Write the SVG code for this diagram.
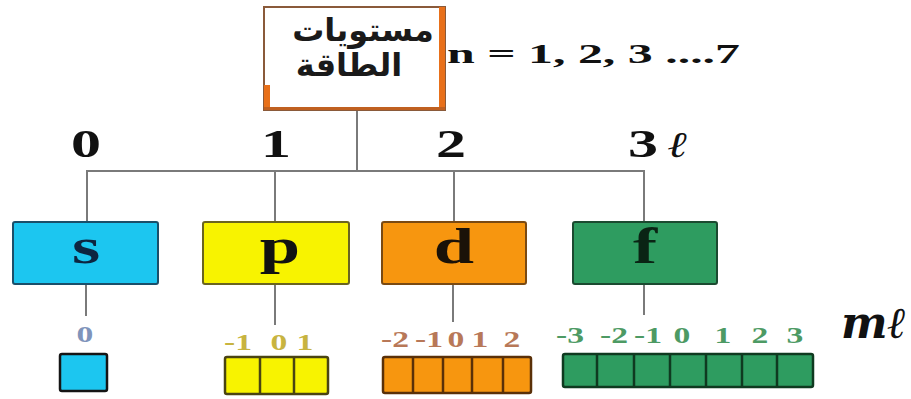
<svg xmlns="http://www.w3.org/2000/svg" width="911" height="399" viewBox="0 0 911 399">
<defs>
<style>
.ln{stroke:#7a7a7a;stroke-width:2;fill:none}
.num{font-family:"Liberation Serif","Times New Roman",serif;font-weight:bold;font-size:40px;fill:#111;text-anchor:middle}
.let{font-family:"Liberation Serif","Times New Roman",serif;font-weight:bold;font-size:50px;text-anchor:middle}
.val{font-family:"Liberation Serif","Times New Roman",serif;font-weight:bold;font-size:24px;text-anchor:middle}
.ar{font-family:"DejaVu Sans","Noto Sans",sans-serif;font-weight:bold;font-size:32px;fill:#1a1a1a;text-anchor:middle}
.big{stroke-width:2}
.cell{stroke-width:2.5}
</style>
</defs>
<rect width="911" height="399" fill="#ffffff"/>

<g id="connectors">
<line class="ln" x1="357" y1="110" x2="357" y2="171"/>
<line class="ln" x1="86" y1="171" x2="645" y2="171"/>
<line class="ln" x1="87" y1="171" x2="87" y2="222"/>
<line class="ln" x1="275" y1="171" x2="275" y2="222"/>
<line class="ln" x1="454" y1="171" x2="454" y2="222"/>
<line class="ln" x1="644" y1="171" x2="644" y2="222"/>
<line class="ln" x1="86" y1="284" x2="86" y2="316"/>
<line class="ln" x1="275" y1="284" x2="275" y2="325"/>
<line class="ln" x1="453" y1="284" x2="453" y2="322"/>
<line class="ln" x1="644" y1="284" x2="644" y2="315"/>
</g>

<g id="energy-levels">
<rect x="264" y="7" width="181" height="103" fill="#ffffff" stroke="#8a5a3a" stroke-width="2"/>
<rect x="439" y="7" width="6" height="103" fill="#e8701a"/>
<rect x="264" y="85" width="6" height="25" fill="#e8701a"/>
<rect x="264" y="107" width="181" height="3" fill="#c06020"/>
<text class="ar" x="363" y="41">مستويات</text>
<text class="ar" x="349" y="76">الطاقة</text>
</g>

<g id="n-values">
<text x="447" y="63" font-family="Liberation Serif, Times New Roman, serif" font-weight="bold" font-size="28" fill="#111" textLength="293" lengthAdjust="spacingAndGlyphs">n = 1, 2, 3 ....7</text>
</g>

<g id="l-values">
<text class="num" transform="translate(86 157) scale(1.5 1)">0</text>
<text class="num" transform="translate(276 157) scale(1.5 1)">1</text>
<text class="num" transform="translate(451 157) scale(1.5 1)">2</text>
<text class="num" transform="translate(643 157) scale(1.5 1)">3</text>
<text transform="translate(667 157) scale(1.3 1)" font-family="DejaVu Serif, serif" font-style="italic" font-size="36" fill="#111">ℓ</text>
</g>

<g id="node-s">
<rect class="big" x="13" y="222" width="145" height="62" rx="2" fill="#1cc6f0" stroke="#1a4f6a"/>
<text class="let" fill="#0d2540" transform="translate(86 263) scale(1.45 1)">s</text>
</g>
<g id="node-p">
<rect class="big" x="203" y="222" width="146" height="62" rx="2" fill="#f8f300" stroke="#6a6420"/>
<text class="let" fill="#111" transform="translate(280 263) scale(1.45 1)">p</text>
</g>
<g id="node-d">
<rect class="big" x="382" y="222" width="144" height="62" rx="2" fill="#f7960f" stroke="#7a4a12"/>
<text class="let" fill="#1a1208" transform="translate(454 263) scale(1.45 1)">d</text>
</g>
<g id="node-f">
<rect class="big" x="573" y="222" width="144" height="62" rx="2" fill="#2e9c60" stroke="#1b4a30"/>
<text class="let" fill="#0a2414" transform="translate(645 263) scale(1.45 1)">f</text>
</g>

<g id="orbitals-s">
<text class="val" fill="#7f94bb" transform="translate(85 342) scale(1.4 1)">0</text>
<rect class="cell" x="60" y="354" width="47" height="37" rx="2" fill="#1cc6f0" stroke="#151515"/>
</g>

<g id="orbitals-p">
<g class="val" fill="#c8b440">
<text transform="translate(238 350) scale(1.4 1)">-1</text>
<text transform="translate(279 350) scale(1.4 1)">0</text>
<text transform="translate(305 350) scale(1.4 1)">1</text>
</g>
<rect class="cell" x="225" y="357" width="103" height="37" rx="2" fill="#f8f300" stroke="#4a4412"/>
<line class="cell" x1="260" y1="357" x2="260" y2="394" stroke="#4a4412"/>
<line class="cell" x1="294" y1="357" x2="294" y2="394" stroke="#4a4412"/>
</g>

<g id="orbitals-d">
<g class="val" fill="#b87858">
<text transform="translate(395 347) scale(1.4 1)">-2</text>
<text transform="translate(429 347) scale(1.4 1)">-1</text>
<text transform="translate(456 347) scale(1.4 1)">0</text>
<text transform="translate(480 347) scale(1.4 1)">1</text>
<text transform="translate(512 347) scale(1.4 1)">2</text>
</g>
<rect class="cell" x="383" y="357" width="148" height="36" rx="2" fill="#f7960f" stroke="#5a3008"/>
<line class="cell" x1="413" y1="357" x2="413" y2="393" stroke="#5a3008"/>
<line class="cell" x1="443" y1="357" x2="443" y2="393" stroke="#5a3008"/>
<line class="cell" x1="472" y1="357" x2="472" y2="393" stroke="#5a3008"/>
<line class="cell" x1="503" y1="357" x2="503" y2="393" stroke="#5a3008"/>
</g>

<g id="orbitals-f">
<g class="val" fill="#4d9a64">
<text transform="translate(570 343) scale(1.4 1)">-3</text>
<text transform="translate(614 343) scale(1.4 1)">-2</text>
<text transform="translate(648 343) scale(1.4 1)">-1</text>
<text transform="translate(682 343) scale(1.4 1)">0</text>
<text transform="translate(723 343) scale(1.4 1)">1</text>
<text transform="translate(760 343) scale(1.4 1)">2</text>
<text transform="translate(795 343) scale(1.4 1)">3</text>
</g>
<rect class="cell" x="563" y="354" width="250" height="33" rx="2" fill="#2e9c60" stroke="#0f3a20"/>
<line class="cell" x1="597" y1="354" x2="597" y2="387" stroke="#0f3a20"/>
<line class="cell" x1="634" y1="354" x2="634" y2="387" stroke="#0f3a20"/>
<line class="cell" x1="670" y1="354" x2="670" y2="387" stroke="#0f3a20"/>
<line class="cell" x1="706" y1="354" x2="706" y2="387" stroke="#0f3a20"/>
<line class="cell" x1="742" y1="354" x2="742" y2="387" stroke="#0f3a20"/>
<line class="cell" x1="777" y1="354" x2="777" y2="387" stroke="#0f3a20"/>
</g>

<g id="ml-label">
<text x="841" y="338" font-family="DejaVu Serif, serif" font-weight="bold" font-style="italic" font-size="44" fill="#111">mℓ</text>
</g>
</svg>
